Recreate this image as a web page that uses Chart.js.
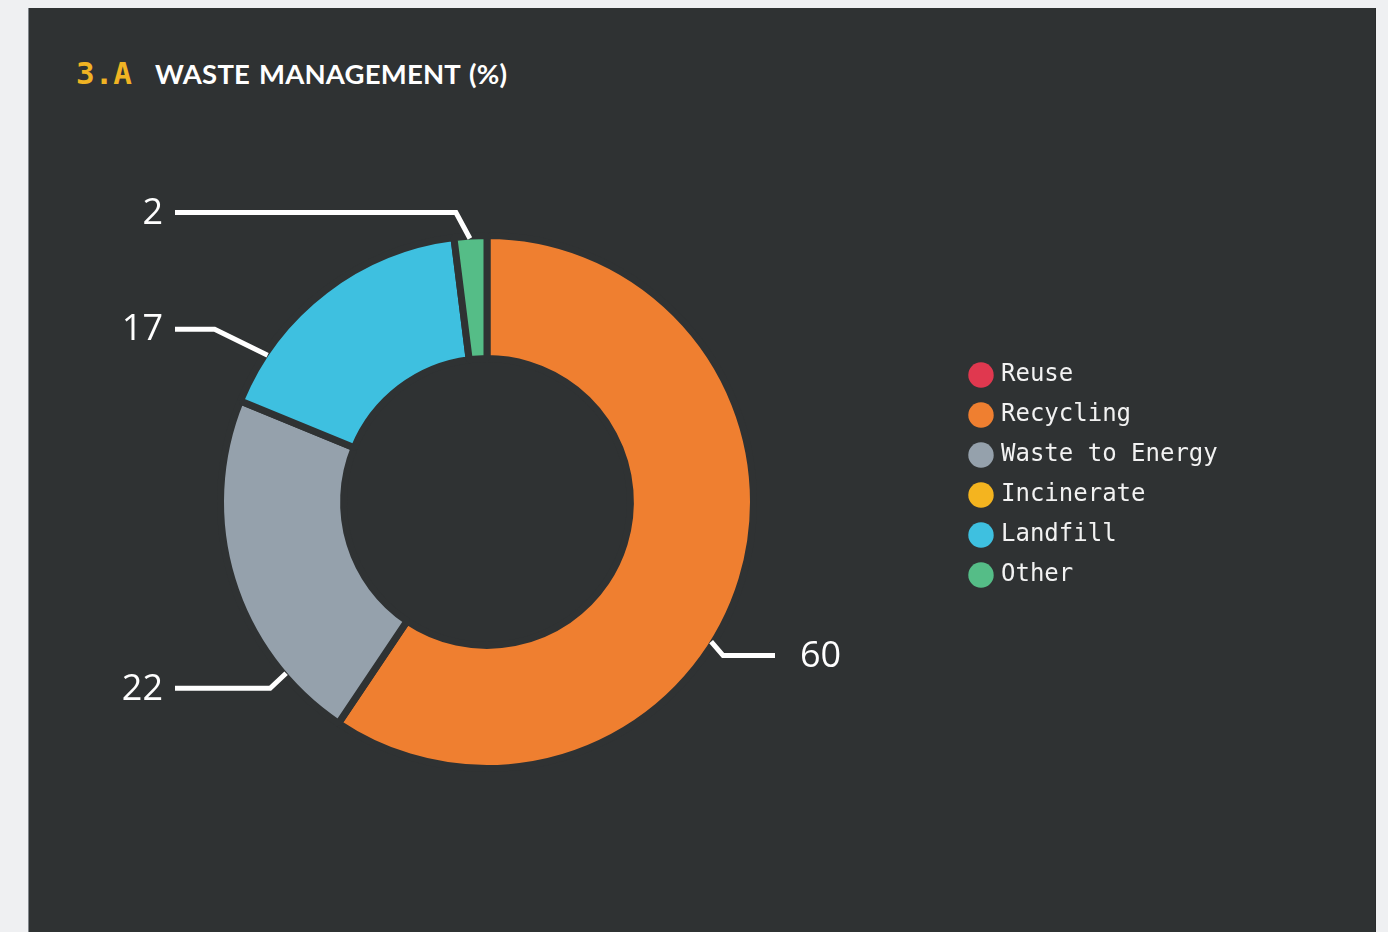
<!DOCTYPE html>
<html>
<head>
<meta charset="utf-8">
<title>Waste Management</title>
<script src="https://cdn.jsdelivr.net/npm/chart.js@4.4.1/dist/chart.umd.min.js"></script>
<style>
  html, body { margin: 0; padding: 0; background: #eff0f2; width: 1388px; height: 932px; overflow: hidden; }
  .panel {
    position: absolute; left: 28px; top: 8px; width: 1346px; height: 940px;
    background: #2f3233; border-left: 1px solid #80858a; border-right: 1px solid #292b2c;
  }
  .title { position: absolute; left: 76px; top: 55px; white-space: nowrap; }
  .title .num { font-family: "DejaVu Sans Mono", monospace; font-weight: 700; font-size: 31px; color: #f0b323; margin-right: 23px; }
  .title .txt { font-family: Lato, sans-serif; font-weight: 700; font-size: 27.5px; color: #ffffff; letter-spacing: 0.2px; word-spacing: 2px; }
  #chart { position: absolute; left: 0; top: 0; }
</style>
</head>
<body>
<div class="panel"></div>
<div class="title"><span class="num">3.A</span><span class="txt">WASTE MANAGEMENT (%)</span></div>
<canvas id="chart" width="1388" height="932"></canvas>
<script>
// Data
const categories = ['Reuse', 'Recycling', 'Waste to Energy', 'Incinerate', 'Landfill', 'Other'];
const shares = [0, 60, 22, 0, 17, 2];
const colors = ['#e0384f', '#ef7f30', '#95a1ac', '#f4b41f', '#3ec0e0', '#55bd87'];

const panelColor = '#2f3233';
const gap = 7;

// Leader lines for the value callouts (drawn on top of the arcs)
const calloutPlugin = {
  id: 'callouts',
  afterDatasetsDraw(chart, args, opts) {
    const ctx = chart.ctx;
    const meta = chart.getDatasetMeta(0);
    const values = chart.data.datasets[0].data;
    ctx.save();
    ctx.strokeStyle = opts.color;
    ctx.fillStyle = opts.color;
    ctx.lineWidth = opts.lineWidth;
    ctx.lineJoin = 'miter';
    ctx.font = opts.font;
    ctx.textBaseline = 'middle';
    meta.data.forEach(function (arc, i) {
      const c = opts.leaders[i];
      if (!c || !values[i]) return;
      const p = arc.getProps(['x', 'y', 'startAngle', 'endAngle', 'outerRadius'], true);
      const a = p.startAngle + c.f * (p.endAngle - p.startAngle);
      const r = p.outerRadius - gap / 2 + 1;
      const x0 = p.x + Math.cos(a) * r;
      const y0 = p.y + Math.sin(a) * r;
      const x1 = x0 + c.dx;
      const y1 = y0 + c.dy;
      const left = Math.cos(a) < 0;
      const x2 = left ? p.x - opts.leftReach : p.x + opts.rightReach;
      ctx.beginPath();
      ctx.moveTo(x0, y0);
      ctx.lineTo(x1, y1);
      ctx.lineTo(x2, y1);
      ctx.stroke();
      ctx.textAlign = left ? 'right' : 'left';
      ctx.fillText(String(values[i]), left ? x2 - 12 : x2 + 25, y1 + 1);
    });
    ctx.restore();
  }
};

const chart = new Chart(document.getElementById('chart'), {
  type: 'doughnut',
  data: {
    labels: categories,
    datasets: [{
      data: shares,
      backgroundColor: colors,
      borderColor: panelColor,
      borderWidth: gap,
      radius: 263 + gap / 2,
      cutout: '53.8%',
      clip: false
    }]
  },
  options: {
    responsive: false,
    animation: false,
    events: [],
    layout: { padding: { left: 17, right: 171, top: 347, bottom: 275 } },
    plugins: {
      tooltip: { enabled: false },
      legend: {
        position: 'right',
        align: 'start',
        maxWidth: 260,
        labels: {
          usePointStyle: true,
          pointStyle: 'circle',
          boxWidth: 16,
          boxHeight: 18,
          padding: 16,
          color: '#f2f2f2',
          font: { family: '"DejaVu Sans Mono", monospace', size: 24, lineHeight: 1.2 },
          generateLabels(chart) {
            const items = Chart.overrides.doughnut.plugins.legend.labels.generateLabels(chart);
            items.forEach(function (it) { it.lineWidth = 0; it.strokeStyle = it.fillStyle; it.hidden = false; });
            return items;
          }
        }
      },
      callouts: {
        color: '#ffffff',
        lineWidth: 5,
        font: '500 36px "Open Sans", sans-serif',
        leftReach: 312,
        rightReach: 288,
        leaders: [
          null,
          { f: 0.57, dx: 12, dy: 14 },
          { f: 0.20, dx: -16, dy: 15 },
          null,
          { f: 0.19, dx: -53, dy: -26 },
          { f: 0.48, dx: -14, dy: -26 }
        ]
      }
    }
  },
  plugins: [calloutPlugin]
});
</script>
</body>
</html>
